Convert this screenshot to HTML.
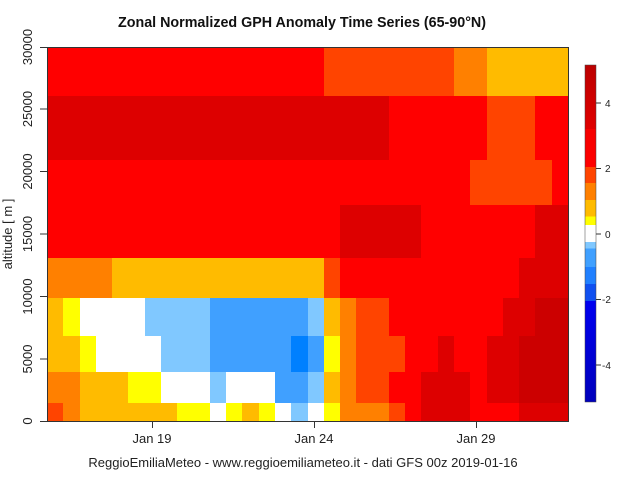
<!DOCTYPE html>
<html><head><meta charset="utf-8"><style>
body{margin:0;width:640px;height:480px;background:#fff;position:relative;overflow:hidden;font-family:"Liberation Sans",sans-serif;}
.plot{position:absolute;left:47px;top:47px;width:521px;height:374px;}
.row{display:flex;width:521px;}
.row div{height:100%;}
.R{background:#FF0000}.DR{background:#DD0000}.D2{background:#CC0000}.RO{background:#FF4400}.O{background:#FF8000}.A{background:#FFBB00}.Y{background:#FFFF00}.W{background:#FFFFFF}.LB{background:#80C8FF}.B{background:#40A0FF}.DB{background:#0080FF}
.t{position:absolute;font-size:13px;color:#222;white-space:nowrap}
</style></head><body>
<div class="t" style="left:118px;top:15px;font-size:14.3px;font-weight:bold;color:#111">Zonal Normalized GPH Anomaly Time Series (65-90°N)</div>
<div class="plot">
<div class="row" style="height:49px"><div class="R" style="flex:17"></div><div class="RO" style="flex:8"></div><div class="O" style="flex:2"></div><div class="A" style="flex:5"></div></div>
<div class="row" style="height:64px"><div class="DR" style="flex:21"></div><div class="R" style="flex:6"></div><div class="RO" style="flex:3"></div><div class="R" style="flex:2"></div></div>
<div class="row" style="height:45px"><div class="R" style="flex:26"></div><div class="RO" style="flex:5"></div><div class="R" style="flex:1"></div></div>
<div class="row" style="height:53px"><div class="R" style="flex:18"></div><div class="DR" style="flex:5"></div><div class="R" style="flex:7"></div><div class="DR" style="flex:2"></div></div>
<div class="row" style="height:40px"><div class="O" style="flex:4"></div><div class="A" style="flex:13"></div><div class="RO" style="flex:1"></div><div class="R" style="flex:11"></div><div class="DR" style="flex:3"></div></div>
<div class="row" style="height:38px"><div class="A" style="flex:1"></div><div class="Y" style="flex:1"></div><div class="W" style="flex:4"></div><div class="LB" style="flex:4"></div><div class="B" style="flex:6"></div><div class="LB" style="flex:1"></div><div class="A" style="flex:1"></div><div class="O" style="flex:1"></div><div class="RO" style="flex:2"></div><div class="R" style="flex:7"></div><div class="DR" style="flex:2"></div><div class="D2" style="flex:2"></div></div>
<div class="row" style="height:36px"><div class="A" style="flex:2"></div><div class="Y" style="flex:1"></div><div class="W" style="flex:4"></div><div class="LB" style="flex:3"></div><div class="B" style="flex:5"></div><div class="DB" style="flex:1"></div><div class="B" style="flex:1"></div><div class="Y" style="flex:1"></div><div class="O" style="flex:1"></div><div class="RO" style="flex:3"></div><div class="R" style="flex:2"></div><div class="DR" style="flex:1"></div><div class="R" style="flex:2"></div><div class="DR" style="flex:2"></div><div class="D2" style="flex:3"></div></div>
<div class="row" style="height:31px"><div class="O" style="flex:2"></div><div class="A" style="flex:3"></div><div class="Y" style="flex:2"></div><div class="W" style="flex:3"></div><div class="LB" style="flex:1"></div><div class="W" style="flex:3"></div><div class="B" style="flex:2"></div><div class="LB" style="flex:1"></div><div class="A" style="flex:1"></div><div class="O" style="flex:1"></div><div class="RO" style="flex:2"></div><div class="R" style="flex:2"></div><div class="DR" style="flex:3"></div><div class="R" style="flex:1"></div><div class="DR" style="flex:2"></div><div class="D2" style="flex:3"></div></div>
<div class="row" style="height:18px"><div class="RO" style="flex:1"></div><div class="O" style="flex:1"></div><div class="A" style="flex:6"></div><div class="Y" style="flex:2"></div><div class="W" style="flex:1"></div><div class="Y" style="flex:1"></div><div class="A" style="flex:1"></div><div class="Y" style="flex:1"></div><div class="W" style="flex:1"></div><div class="LB" style="flex:1"></div><div class="W" style="flex:1"></div><div class="Y" style="flex:1"></div><div class="O" style="flex:3"></div><div class="RO" style="flex:1"></div><div class="R" style="flex:1"></div><div class="DR" style="flex:3"></div><div class="R" style="flex:3"></div><div class="DR" style="flex:3"></div></div>
</div>
<svg width="640" height="480" style="position:absolute;left:0;top:0" font-family="Liberation Sans, sans-serif" font-size="13" fill="#222">
<rect x="47.5" y="47.5" width="521" height="374" fill="none" stroke="#333" stroke-width="1"/>
<g stroke="#333">
<line x1="40" y1="421.5" x2="47" y2="421.5"/><line x1="40" y1="359" x2="47" y2="359"/><line x1="40" y1="296.5" x2="47" y2="296.5"/><line x1="40" y1="234" x2="47" y2="234"/><line x1="40" y1="171.5" x2="47" y2="171.5"/><line x1="40" y1="109" x2="47" y2="109"/><line x1="40" y1="47.5" x2="47" y2="47.5"/>
<line x1="152.5" y1="422" x2="152.5" y2="428"/><line x1="314.5" y1="422" x2="314.5" y2="428"/><line x1="476.5" y1="422" x2="476.5" y2="428"/>
</g>
<g text-anchor="middle">
<text transform="translate(32,421) rotate(-90)">0</text>
<text transform="translate(32,359) rotate(-90)">5000</text>
<text transform="translate(32,296.5) rotate(-90)">10000</text>
<text transform="translate(32,234) rotate(-90)">15000</text>
<text transform="translate(32,171.5) rotate(-90)">20000</text>
<text transform="translate(32,109) rotate(-90)">25000</text>
<text transform="translate(32,47) rotate(-90)">30000</text>
<text transform="translate(12,234) rotate(-90)">altitude [ m ]</text>
<text x="152" y="443">Jan 19</text><text x="314" y="443">Jan 24</text><text x="476" y="443">Jan 29</text>
<text x="303" y="467">ReggioEmiliaMeteo - www.reggioemiliameteo.it - dati GFS 00z 2019-01-16</text>
</g>
<defs><linearGradient id="cb" x1="0" y1="0" x2="0" y2="1">
<stop offset="0" stop-color="#BB0000"/><stop offset="0.19" stop-color="#E00000"/><stop offset="0.19" stop-color="#F50000"/><stop offset="0.303" stop-color="#FF0000"/>
<stop offset="0.303" stop-color="#FF4400"/><stop offset="0.35" stop-color="#FF4400"/>
<stop offset="0.35" stop-color="#FF8000"/><stop offset="0.4" stop-color="#FF8000"/>
<stop offset="0.4" stop-color="#FFBB00"/><stop offset="0.45" stop-color="#FFBB00"/>
<stop offset="0.45" stop-color="#FFFF00"/><stop offset="0.475" stop-color="#FFFF00"/>
<stop offset="0.475" stop-color="#FFFFFF"/><stop offset="0.525" stop-color="#FFFFFF"/>
<stop offset="0.525" stop-color="#80C8FF"/><stop offset="0.545" stop-color="#80C8FF"/>
<stop offset="0.545" stop-color="#40A0FF"/><stop offset="0.6" stop-color="#40A0FF"/>
<stop offset="0.6" stop-color="#2080FF"/><stop offset="0.65" stop-color="#2080FF"/>
<stop offset="0.65" stop-color="#1050F0"/><stop offset="0.7" stop-color="#1050F0"/>
<stop offset="0.7" stop-color="#0000F0"/><stop offset="1" stop-color="#0000BB"/>
</linearGradient></defs>
<rect x="585" y="65" width="11" height="337" fill="url(#cb)" stroke="#444" stroke-width="0.5"/>
<g stroke="#333"><line x1="596" y1="103" x2="601" y2="103"/><line x1="596" y1="168.5" x2="601" y2="168.5"/><line x1="596" y1="234" x2="601" y2="234"/><line x1="596" y1="299.5" x2="601" y2="299.5"/><line x1="596" y1="365" x2="601" y2="365"/></g>
<g font-size="10"><text x="605" y="107">4</text><text x="605" y="172">2</text><text x="605" y="238">0</text><text x="602" y="303">-2</text><text x="602" y="369">-4</text></g>
</svg>
</body></html>
